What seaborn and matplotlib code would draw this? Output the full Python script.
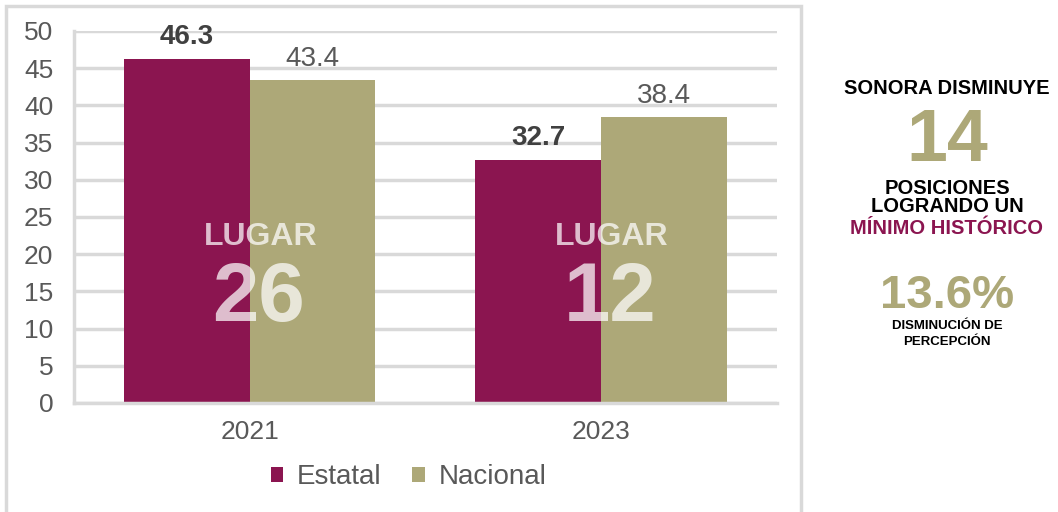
import matplotlib
matplotlib.use("Agg")
import matplotlib.pyplot as plt
import matplotlib.patches as mpatches
import pandas as pd
import seaborn as sns

# Chart data
years = ["2021", "2023"]
estatal = [46.3, 32.7]
nacional = [43.4, 38.4]
lugares = ["26", "12"]
series_names = ["Estatal", "Nacional"]

MAROON = "#8B1550"
KHAKI = "#ADA878"
GRID = "#D9D9D9"
TXT = "#595959"

df = pd.DataFrame({
    "year": years * 2,
    "valor": estatal + nacional,
    "serie": [series_names[0]] * len(years) + [series_names[1]] * len(years),
})

sns.set_theme(style="white")
plt.rcParams["font.family"] = ["Liberation Sans", "DejaVu Sans"]

fig = plt.figure(figsize=(10.58, 5.12), dpi=100)
ax = fig.add_axes([0.070, 0.213, 0.664, 0.7265])

sns.barplot(data=df, x="year", y="valor", hue="serie", palette=[MAROON, KHAKI],
            width=0.716, saturation=1, linewidth=0, ax=ax, legend=True)

ax.set_xlim(-0.5, 1.5)
ax.set_ylim(0, 50)
ax.set_yticks(range(0, 51, 5))
ax.yaxis.grid(True, color=GRID, linewidth=2.5)
ax.set_axisbelow(True)
ax.set_xlabel("")
ax.set_ylabel("")
for s in ["top", "right"]:
    ax.spines[s].set_visible(False)
for s in ["left", "bottom"]:
    ax.spines[s].set_color(GRID)
    ax.spines[s].set_linewidth(2.5)
ax.tick_params(axis="y", labelsize=19, colors=TXT, length=0, pad=15)
ax.tick_params(axis="x", labelsize=19, colors=TXT, length=0, pad=12)
ax.set_xticks([-0.5, 0.5, 1.5], minor=True)
ax.tick_params(axis="x", which="minor", length=6, width=2.5, color=GRID)

# value labels
for i, cont in enumerate(ax.containers):
    weight = "bold" if i == 0 else "normal"
    color = "#404040" if i == 0 else TXT
    ax.bar_label(cont, labels=[f"{v:.1f}" for v in cont.datavalues],
                 fontsize=20, fontweight=weight, color=color, padding=6)

# "LUGAR" overlay
for i, lug in enumerate(lugares):
    ax.text(i + 0.03, 22.3, "LUGAR", ha="center", va="center", fontsize=23,
            fontweight="bold", color="white", alpha=0.72)
    ax.text(i + 0.025, 14.0, lug, ha="center", va="center", fontsize=60,
            fontweight="bold", color="white", alpha=0.72)

# legend
handles, labels = ax.get_legend_handles_labels()
ax.legend(handles, labels, loc="center", bbox_to_anchor=(0.476, -0.2),
          ncol=2, frameon=False, fontsize=20, handlelength=0.45,
          handleheight=0.45, handletextpad=0.5, columnspacing=1.1,
          labelcolor=TXT)

# outer frame
fig.patches.append(mpatches.Rectangle((6 / 1058, -5 / 512), 795 / 1058, 511 / 512,
                                      transform=fig.transFigure, fill=False,
                                      edgecolor=GRID, linewidth=2.5))

# side annotation
cx = 947 / 1058
def ftxt(y, s, size, color="black", va="center"):
    fig.text(cx, 1 - y / 512, s, ha="center", va=va, fontsize=size,
             fontweight="bold", color=color)

ftxt(89, "SONORA DISMINUYE", 14.5)
ftxt(161, "14", 53, KHAKI, va="baseline")
ftxt(188, "POSICIONES", 14.5)
ftxt(207, "LOGRANDO UN", 14.5)
ftxt(228, "MÍNIMO HISTÓRICO", 14.5, MAROON)
ftxt(296, "13.6%", 34, KHAKI)
ftxt(326, "DISMINUCIÓN DE", 9.5)
ftxt(342, "PERCEPCIÓN", 9.5)

fig.savefig("out.png", dpi=100)
